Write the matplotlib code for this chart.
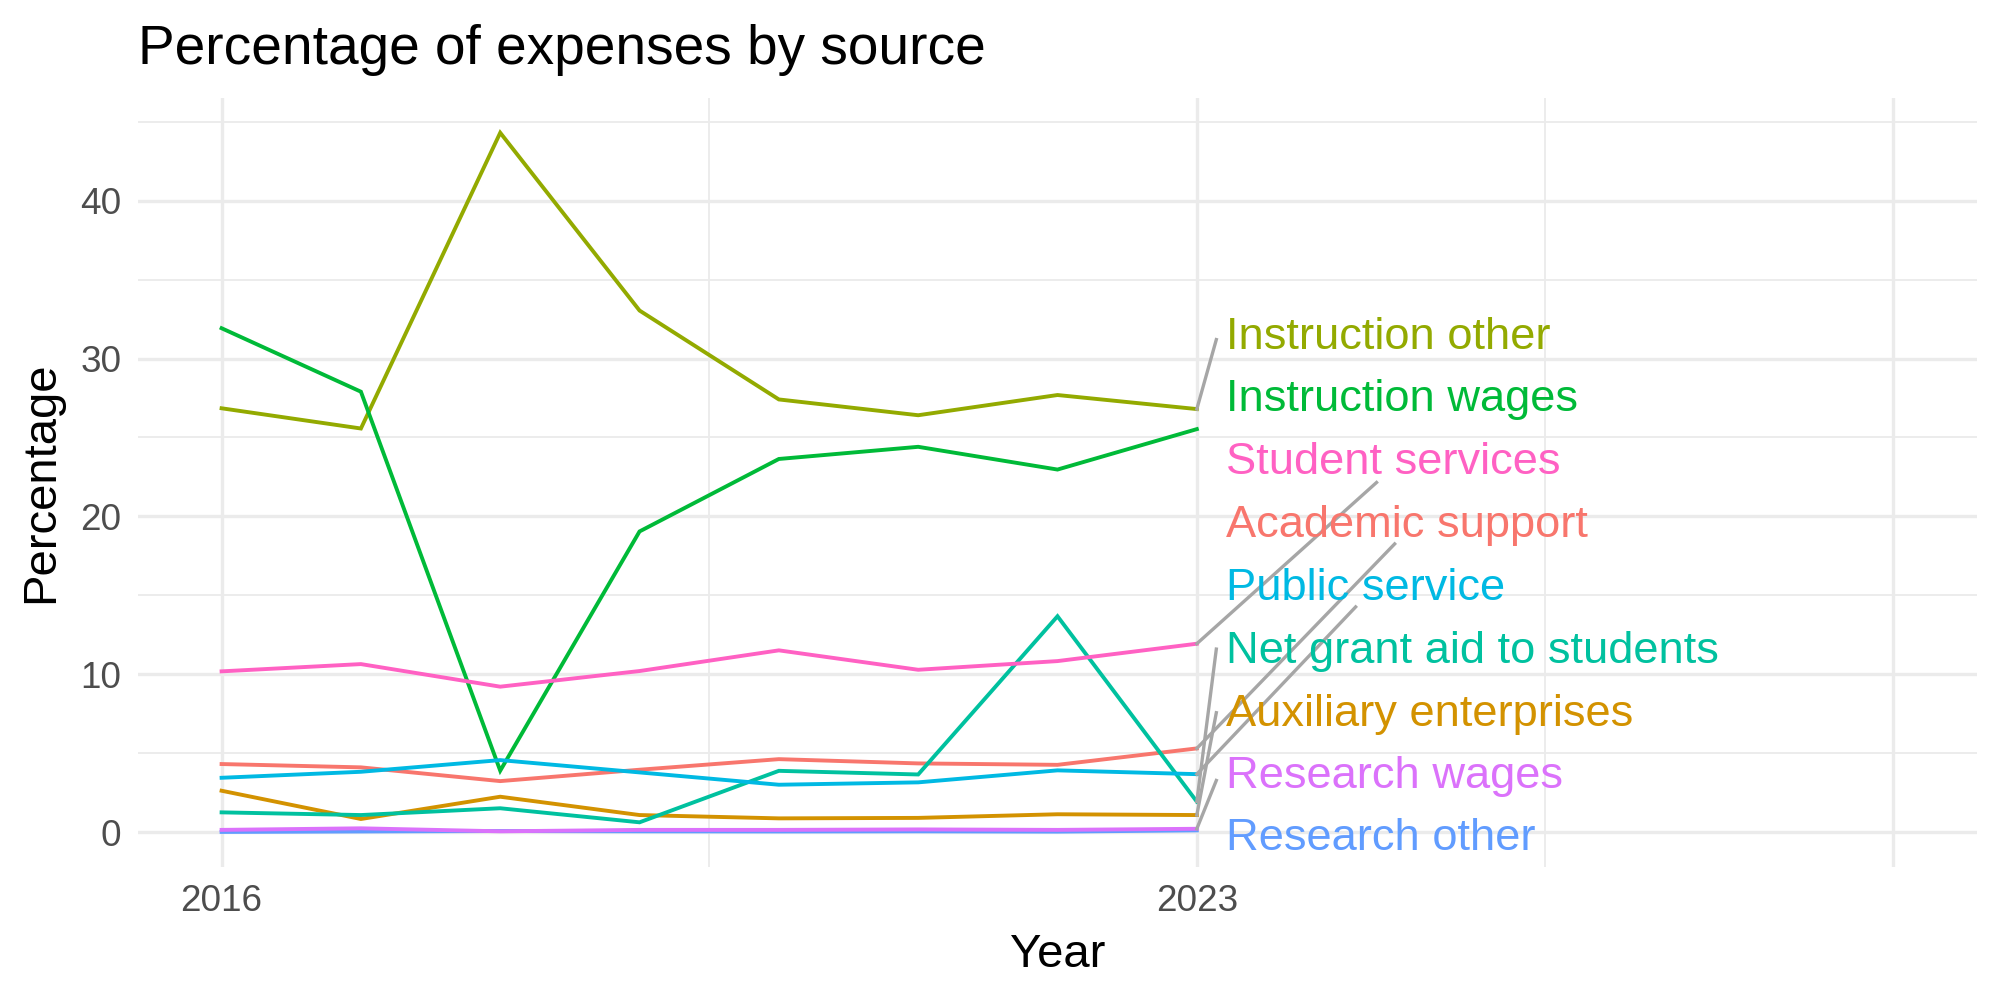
import numpy as np
import matplotlib.pyplot as plt

plt.rcParams['font.family'] = ['Liberation Sans', 'DejaVu Sans']

years = [2016, 2017, 2018, 2019, 2020, 2021, 2022, 2023]

academic_support = [4.32, 4.11, 3.24, 3.96, 4.63, 4.36, 4.27, 5.31]
auxiliary_enterprises = [2.63, 0.84, 2.25, 1.09, 0.88, 0.91, 1.14, 1.09]
instruction_other = [26.85, 25.57, 44.3, 33.04, 27.41, 26.41, 27.69, 26.8]
instruction_wages = [31.92, 27.9, 3.9, 19.05, 23.64, 24.41, 22.97, 25.53]
net_grant_aid = [1.26, 1.09, 1.52, 0.63, 3.89, 3.66, 13.68, 1.94]
public_service = [3.45, 3.83, 4.57, 3.79, 3.01, 3.16, 3.92, 3.68]
research_other = [0.02, 0.05, 0.08, 0.06, 0.05, 0.06, 0.04, 0.12]
research_wages = [0.15, 0.25, 0.06, 0.15, 0.15, 0.18, 0.15, 0.22]
student_services = [10.19, 10.65, 9.22, 10.21, 11.52, 10.29, 10.84, 11.94]

sources = ["Academic support", "Auxiliary enterprises", "Instruction other",
           "Instruction wages", "Net grant aid to students", "Public service",
           "Research other", "Research wages", "Student services"]
series = [academic_support, auxiliary_enterprises, instruction_other,
          instruction_wages, net_grant_aid, public_service,
          research_other, research_wages, student_services]
colors = ["#F8766D", "#D39200", "#93AA00", "#00BA38", "#00C19F",
          "#00B9E3", "#619CFF", "#DB72FB", "#FF61C3"]

# label layout (repelled positions): baseline y and leader segment end
label_y = {"Instruction other": 30.6, "Instruction wages": 26.66,
           "Student services": 22.69, "Academic support": 18.7,
           "Public service": 14.7, "Net grant aid to students": 10.7,
           "Auxiliary enterprises": 6.76, "Research wages": 2.82,
           "Research other": -1.12}
seg_end = {"Instruction other": (2023.14, 31.2),
           "Student services": (2024.29, 22.15),
           "Academic support": (2024.42, 18.26),
           "Public service": (2024.14, 14.27),
           "Net grant aid to students": (2023.14, 11.6),
           "Auxiliary enterprises": (2023.14, 7.57),
           "Research wages": (2023.14, 3.28)}

fig = plt.figure(figsize=(10, 5), dpi=200)
ax = fig.add_axes([0.069, 0.133, 0.9195, 0.769])

ax.set_xlim(2015.4, 2028.6)
ax.set_ylim(-2.2, 46.5)

ax.set_xticks([2016, 2023, 2028])
ax.set_xticklabels(["2016", "2023", ""])
ax.set_xticks([2019.5, 2025.5], minor=True)
ax.set_yticks([0, 10, 20, 30, 40])
ax.set_yticks([5, 15, 25, 35, 45], minor=True)
ax.grid(which='major', color='#EBEBEB', lw=1.2)
ax.grid(which='minor', color='#EBEBEB', lw=0.65)
ax.set_axisbelow(True)
ax.tick_params(which='both', length=0, labelsize=13.3, labelcolor='#4D4D4D', pad=6)
for s in ax.spines.values():
    s.set_visible(False)

for name, vals, c in zip(sources, series, colors):
    ax.plot(years, vals, color=c, lw=1.4, solid_joinstyle='miter')

for name, vals, c in zip(sources, series, colors):
    if name in seg_end:
        ex, ey = seg_end[name]
        ax.plot([years[-1], ex], [vals[-1], ey], color='#A6A6A6', lw=1.2, zorder=3)
    ax.text(2023.21, label_y[name], name, color=c, fontsize=16.3, va='baseline',
            ha='left', zorder=4)

ax.set_xlabel("Year", fontsize=17, labelpad=5)
ax.set_ylabel("Percentage", fontsize=17, labelpad=6)
fig.text(0.069, 0.95, "Percentage of expenses by source", fontsize=19.8,
         ha='left', va='center')

fig.savefig("out.png", dpi=200)
